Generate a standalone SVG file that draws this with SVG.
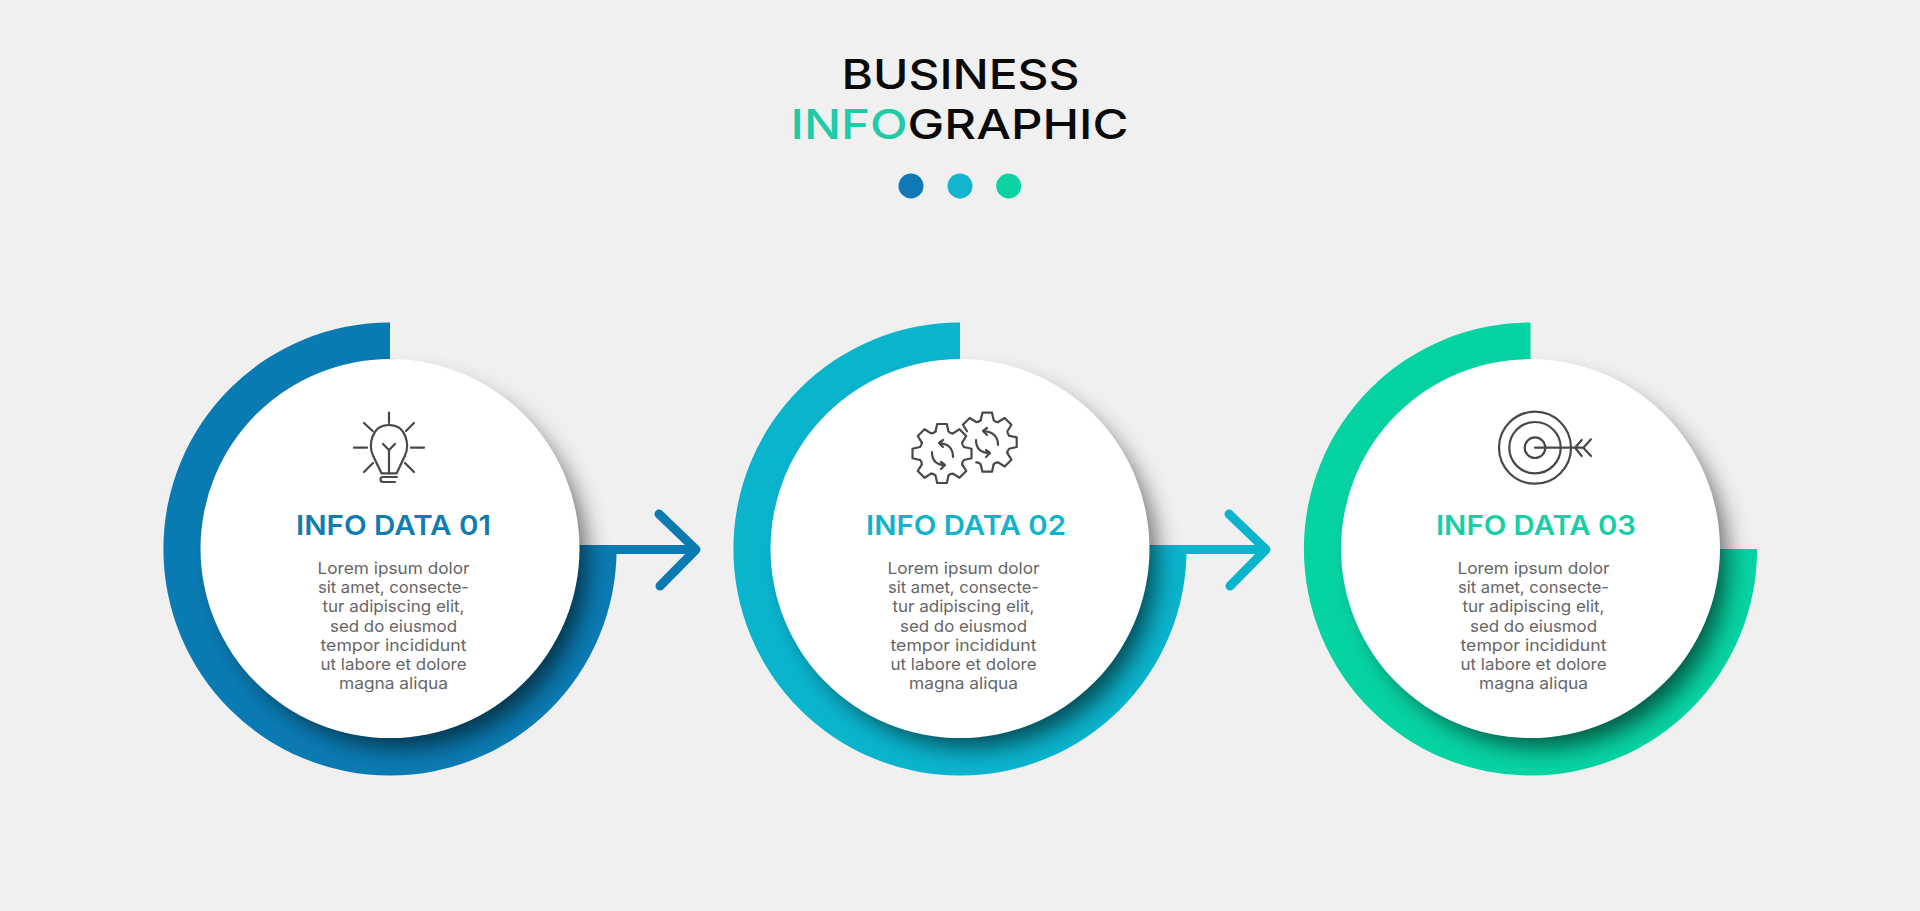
<svg xmlns="http://www.w3.org/2000/svg" width="1920" height="911" viewBox="0 0 1920 911">
<style>
.title{font-family:Inter,"Noto Sans",sans-serif;font-weight:500;font-size:41px;fill:#0a0a0a;text-anchor:middle}
.head{font-family:Inter,"Noto Sans",sans-serif;font-weight:600;font-size:27.5px;text-anchor:middle}
.body{font-family:Inter,"Noto Sans",sans-serif;font-weight:400;font-size:16.5px;fill:#666;text-anchor:middle}
.ic{fill:none;stroke:#484848;stroke-width:2.2;stroke-linecap:round;stroke-linejoin:round}
.shadow{fill:#000;fill-opacity:.6;filter:url(#blur)}
.disc{fill:#fff}
.conn{fill:none;stroke-width:9;stroke-linecap:round;stroke-linejoin:round}
</style>
<defs>
<filter id="blur" x="-20%" y="-20%" width="140%" height="140%"><feGaussianBlur stdDeviation="12"/></filter>
<path id="tooth" d="M-6.500 -22L-4.800 -29.500H4.800L6.500 -22Q8.500 -20 10.960 -20.150"/>
<path id="shape12" d="M0 -226.600A226.600 226.600 0 1 0 226.600 0V-4H0Z"/>
</defs>
<rect width="1920" height="911" fill="#f0f0f0"/>
<g id="title">
<text class="title" x="960.500" y="89" textLength="238" lengthAdjust="spacingAndGlyphs">BUSINESS</text>
<text class="title" x="959.500" y="139" textLength="338" lengthAdjust="spacingAndGlyphs"><tspan fill="#1ecba6">INFO</tspan>GRAPHIC</text>
<circle cx="911" cy="186" r="12.500" fill="#0f79b5"/>
<circle cx="960" cy="186" r="12.500" fill="#12b4d0"/>
<circle cx="1008.700" cy="186" r="12.500" fill="#0dd3a3"/>
</g>
<g id="node-1">
<use href="#shape12" x="390" y="549" fill="#0a7bb2"/>
<circle class="shadow" cx="402" cy="563" r="184"/>
<circle class="disc" cx="390" cy="548.600" r="189.500"/>
<g class="ic">
<path d="M389 412.700V423M354 447.700H367M411 447.700H424M364 423L372.700 431M414 423L406 431M364 472L373 463M414 472L405 463"/>
<path d="M381.500 473.300L373 455.500C368.500 446 371 425 389 425C407 425 409.500 446 405 455.500L396.700 473.300Z"/>
<path d="M389 473V450M383 444L389 450L395 444M397 477H383A2.500 2.500 0 0 0 383 482H395"/>
</g>
<text class="head" x="393.500" y="535" fill="#0f7dae" textLength="195" lengthAdjust="spacingAndGlyphs">INFO DATA 01</text>
<text class="body" x="393.500" y="574" textLength="152" lengthAdjust="spacingAndGlyphs">Lorem ipsum dolor</text>
<text class="body" x="393.500" y="593" textLength="151" lengthAdjust="spacingAndGlyphs">sit amet, consecte-</text>
<text class="body" x="393.500" y="612" textLength="142" lengthAdjust="spacingAndGlyphs">tur adipiscing elit,</text>
<text class="body" x="393.500" y="631.500" textLength="127" lengthAdjust="spacingAndGlyphs">sed do eiusmod</text>
<text class="body" x="393.500" y="650.500" textLength="146" lengthAdjust="spacingAndGlyphs">tempor incididunt</text>
<text class="body" x="393.500" y="670" textLength="146" lengthAdjust="spacingAndGlyphs">ut labore et dolore</text>
<text class="body" x="393.500" y="689" textLength="109" lengthAdjust="spacingAndGlyphs">magna aliqua</text>
</g>
<g id="node-2">
<use href="#shape12" x="960" y="549" fill="#0ab4cd"/>
<circle class="shadow" cx="972" cy="563" r="184"/>
<circle class="disc" cx="960" cy="548.600" r="189.500"/>
<g class="ic">
<g transform="translate(942 453.500)">
<use href="#tooth"/><use href="#tooth" transform="rotate(45)"/><use href="#tooth" transform="rotate(90)"/><use href="#tooth" transform="rotate(135)"/><use href="#tooth" transform="rotate(180)"/><use href="#tooth" transform="rotate(225)"/><use href="#tooth" transform="rotate(270)"/><use href="#tooth" transform="rotate(315)"/>
</g>
<g transform="translate(987.200 442.200)">
<use href="#tooth" transform="rotate(-45)"/><use href="#tooth"/><use href="#tooth" transform="rotate(45)"/><use href="#tooth" transform="rotate(90)"/><use href="#tooth" transform="rotate(135)"/><use href="#tooth" transform="rotate(180)"/>
</g>
<path d="M939 443Q953 444 953 457M939 443L943 440M939 443L943 447M932 452Q932 465 945 465M945 465L941 462M945 465L941 469"/>
<path d="M983 431Q998 432 998 445M983 431L987 428M983 431L987 435M976 440Q976 453 990 453M990 453L986 450M990 453L986 457"/>
</g>
<text class="head" x="966" y="535" fill="#11b3cc" textLength="200" lengthAdjust="spacingAndGlyphs">INFO DATA 02</text>
<text class="body" x="963.500" y="574" textLength="152" lengthAdjust="spacingAndGlyphs">Lorem ipsum dolor</text>
<text class="body" x="963.500" y="593" textLength="151" lengthAdjust="spacingAndGlyphs">sit amet, consecte-</text>
<text class="body" x="963.500" y="612" textLength="142" lengthAdjust="spacingAndGlyphs">tur adipiscing elit,</text>
<text class="body" x="963.500" y="631.500" textLength="127" lengthAdjust="spacingAndGlyphs">sed do eiusmod</text>
<text class="body" x="963.500" y="650.500" textLength="146" lengthAdjust="spacingAndGlyphs">tempor incididunt</text>
<text class="body" x="963.500" y="670" textLength="146" lengthAdjust="spacingAndGlyphs">ut labore et dolore</text>
<text class="body" x="963.500" y="689" textLength="109" lengthAdjust="spacingAndGlyphs">magna aliqua</text>
</g>
<g id="node-3">
<path d="M1530.500 322.400A226.600 226.600 0 1 0 1757.100 549H1530.500Z" fill="#06d3a2"/>
<circle class="shadow" cx="1542.500" cy="563" r="184"/>
<circle class="disc" cx="1530.500" cy="548.600" r="189.500"/>
<g class="ic">
<circle cx="1535" cy="447.700" r="36"/>
<circle cx="1535" cy="447.700" r="25.700"/>
<circle cx="1535" cy="447.700" r="10.300"/>
<path d="M1535 447.700H1584M1581.700 440L1575 447.700L1581.700 456M1591 439.300L1583.300 447.700L1591 456"/>
</g>
<text class="head" x="1536" y="535" fill="#15cfa7" textLength="200" lengthAdjust="spacingAndGlyphs">INFO DATA 03</text>
<text class="body" x="1533.500" y="574" textLength="152" lengthAdjust="spacingAndGlyphs">Lorem ipsum dolor</text>
<text class="body" x="1533.500" y="593" textLength="151" lengthAdjust="spacingAndGlyphs">sit amet, consecte-</text>
<text class="body" x="1533.500" y="612" textLength="142" lengthAdjust="spacingAndGlyphs">tur adipiscing elit,</text>
<text class="body" x="1533.500" y="631.500" textLength="127" lengthAdjust="spacingAndGlyphs">sed do eiusmod</text>
<text class="body" x="1533.500" y="650.500" textLength="146" lengthAdjust="spacingAndGlyphs">tempor incididunt</text>
<text class="body" x="1533.500" y="670" textLength="146" lengthAdjust="spacingAndGlyphs">ut labore et dolore</text>
<text class="body" x="1533.500" y="689" textLength="109" lengthAdjust="spacingAndGlyphs">magna aliqua</text>
</g>
<g id="connectors">
<g class="conn" stroke="#0a7bb2"><path d="M612 549.500H695" stroke-linecap="butt"/><path d="M659 514L696 549.500L660 586"/></g>
<g class="conn" stroke="#0ab4cd"><path d="M1182 549.500H1265" stroke-linecap="butt"/><path d="M1229 514L1266 549.500L1230 586"/></g>
</g>
</svg>
